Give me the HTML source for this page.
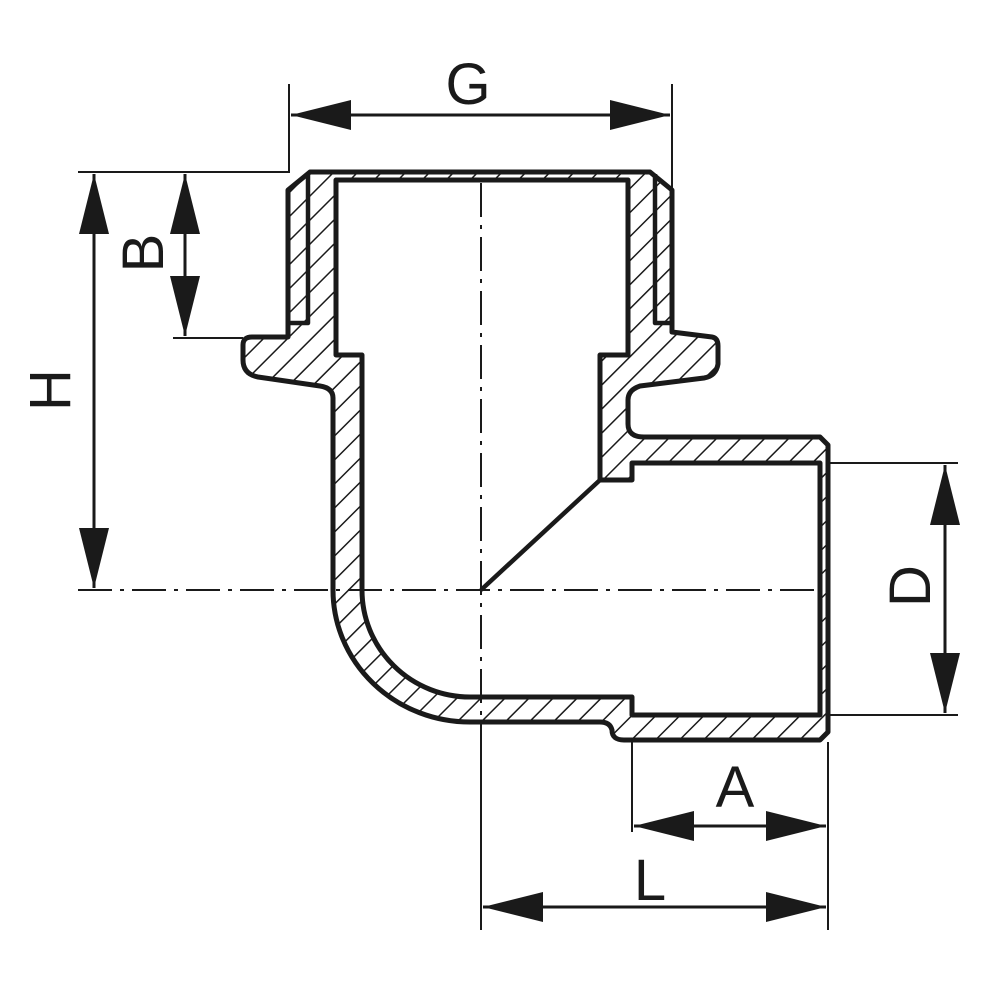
<!DOCTYPE html>
<html><head><style>html,body{margin:0;padding:0;background:#fff}svg{display:block}</style></head>
<body>
<svg width="1000" height="1000" viewBox="0 0 1000 1000" xmlns="http://www.w3.org/2000/svg">
<defs>
<pattern id="h" patternUnits="userSpaceOnUse" width="17" height="17" patternTransform="rotate(45)">
<rect width="17" height="17" fill="#fff"/>
<line x1="0" y1="0" x2="0" y2="17" stroke="#1a1a1a" stroke-width="3"/>
</pattern>
<marker id="a" viewBox="0 0 60 30" refX="60" refY="15" markerWidth="60" markerHeight="30" markerUnits="userSpaceOnUse" orient="auto-start-reverse">
<path d="M0,0 L60,15 L0,30 Z" fill="#1a1a1a"/>
</marker>
</defs>
<g fill="none" stroke="#1a1a1a" stroke-linejoin="round">
<path fill="url(#h)" fill-rule="evenodd" stroke-width="5" d="
M310,172 L650,172 L672,190 L672,332 L712,337 Q718,338 718,346 L718,364 Q716,376 704,378 L640,386 Q628,390 628,400 L628,424 Q628,437 644,437 L820,437 L828,445 L828,732 L820,740 L624,740 Q612,740 612,730 Q610,722 600,722 L470,722 A137,132 0 0 1 333,590 L333,398 Q333,388 320,386 L258,377 Q243,374 243,360 L243,345 Q243,337 252,337 L288,337 L288,190 Z
M336,180 L628,180 L628,355 L600,355 L600,480 L632,480 L632,463 L820,463 L820,715 L632,715 L632,697 L470,697 A108,107 0 0 1 362,590 L362,355 L336,355 Z"/>
<g stroke-width="4.5">
<path d="M308,174 L308,323 L290,323"/>
<path d="M655,174 L655,323 L670,323"/>
<path d="M600,480 L481,590"/>
</g>
<g stroke-width="2" stroke-dasharray="34,8,4,8">
<line x1="481" y1="183" x2="481" y2="720"/>
<line x1="78" y1="590" x2="820" y2="590"/>
</g>
<g stroke-width="2">
<line x1="289" y1="84" x2="289" y2="172"/>
<line x1="672" y1="84" x2="672" y2="190"/>
<line x1="78" y1="172" x2="290" y2="172"/>
<line x1="173" y1="338" x2="243" y2="338"/>
<line x1="830" y1="463" x2="958" y2="463"/>
<line x1="830" y1="715" x2="958" y2="715"/>
<line x1="632" y1="742" x2="632" y2="832"/>
<line x1="828" y1="742" x2="828" y2="930"/>
<line x1="481" y1="720" x2="481" y2="930"/>
</g>
<g stroke-width="3">
<line x1="291" y1="115" x2="670" y2="115" marker-start="url(#a)" marker-end="url(#a)"/>
<line x1="94" y1="174" x2="94" y2="588" marker-start="url(#a)" marker-end="url(#a)"/>
<line x1="185" y1="174" x2="185" y2="336" marker-start="url(#a)" marker-end="url(#a)"/>
<line x1="945" y1="465" x2="945" y2="713" marker-start="url(#a)" marker-end="url(#a)"/>
<line x1="634" y1="826" x2="826" y2="826" marker-start="url(#a)" marker-end="url(#a)"/>
<line x1="483" y1="907" x2="826" y2="907" marker-start="url(#a)" marker-end="url(#a)"/>
</g>
</g>
<g font-family="Liberation Sans, sans-serif" font-size="58" fill="#1a1a1a" text-anchor="middle">
<text x="468" y="104">G</text>
<text x="735" y="807">A</text>
<text x="650" y="900">L</text>
<text transform="translate(70,390) rotate(-90)">H</text>
<text transform="translate(163,253) rotate(-90)">B</text>
<text transform="translate(930,586) rotate(-90)">D</text>
</g>
</svg>
</body></html>
